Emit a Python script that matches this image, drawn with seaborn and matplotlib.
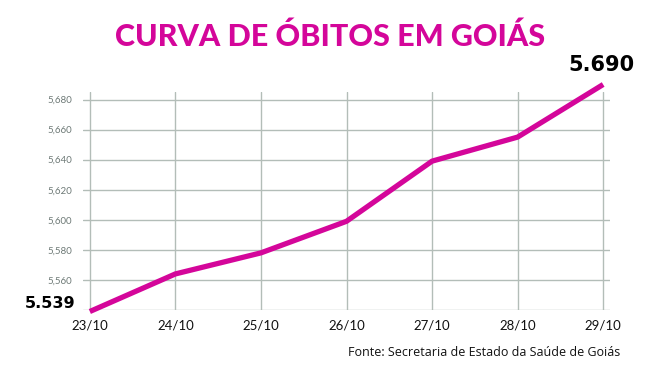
import matplotlib
matplotlib.use("Agg")
import matplotlib.pyplot as plt
import seaborn as sns
import pandas as pd

dates = ["23/10", "24/10", "25/10", "26/10", "27/10", "28/10", "29/10"]
deaths = [5539, 5564, 5578, 5599, 5639, 5655, 5690]
ytick_values = [5540, 5560, 5580, 5600, 5620, 5640, 5660, 5680]
ytick_labels = ["", "5,560", "5,580", "5,600", "5,620", "5,640", "5,660", "5,680"]
title = "CURVA DE ÓBITOS EM GOIÁS"
source = "Fonte: Secretaria de Estado da Saúde de Goiás"

sns.set_style("white")
plt.rcParams["font.family"] = ["Lato", "DejaVu Sans"]

MAGENTA = "#D4069A"
GRID = "#B3BDB8"

df = pd.DataFrame({"pos": range(len(dates)), "deaths": deaths})

fig = plt.figure(figsize=(6.62, 3.87), dpi=100)
ax = fig.add_axes([83/662, 1-310/387, (610-83)/662, (310-92)/387])

sns.lineplot(data=df, x="pos", y="deaths", ax=ax, color=MAGENTA, linewidth=3.8,
             solid_capstyle="butt", clip_on=False, zorder=5)

ax.set_xlim(-0.08, 6.08)
ax.set_ylim(5540, 5685)
ax.set_xticks(range(len(dates)))
ax.set_xticklabels(dates, fontsize=9.5, color="#111111")
ax.set_yticks(ytick_values)
ax.set_yticklabels(ytick_labels, fontsize=7, color="#6E7A77")
ax.tick_params(axis="both", length=0)
ax.tick_params(axis="x", pad=7)
ax.tick_params(axis="y", pad=8)
ax.grid(True, color=GRID, linewidth=1.0)
for s in ax.spines.values():
    s.set_visible(False)
ax.set_xlabel("")
ax.set_ylabel("")

ax.annotate("5.539", xy=(0, deaths[0]), xytext=(-10.5, 6), textcoords="offset points",
            ha="right", va="center", fontsize=11.5, fontweight="black", color="#000000",
            family=["DejaVu Sans"], annotation_clip=False)
ax.annotate("5.690", xy=(6, deaths[-1]), xytext=(-1.4, 13.7), textcoords="offset points",
            ha="center", va="center", fontsize=15, fontweight="black", color="#000000",
            family=["DejaVu Sans"], annotation_clip=False)

fig.text(330/662, 1-37/387, title, ha="center", va="center", fontsize=22,
         fontweight="black", color=MAGENTA)
fig.text(620/662, 1-353/387, source, ha="right", va="center", fontsize=9,
         color="#111111", family=["Open Sans", "DejaVu Sans"])

fig.savefig("out.png", dpi=100)
